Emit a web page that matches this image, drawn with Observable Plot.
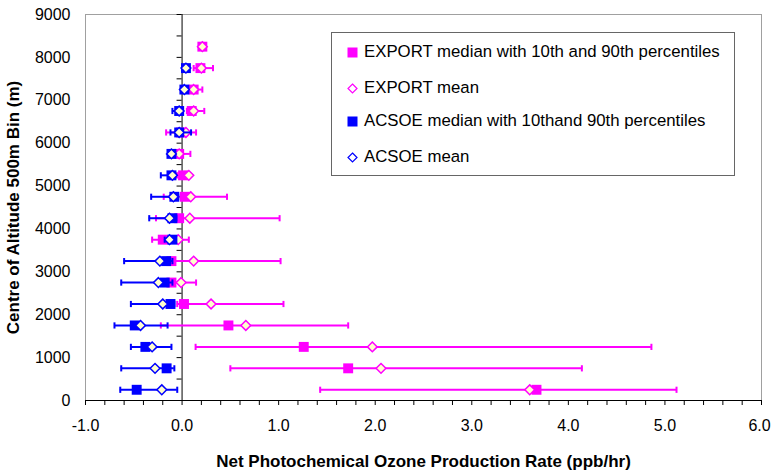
<!DOCTYPE html>
<html>
<head>
<meta charset="utf-8">
<script src="https://cdn.jsdelivr.net/npm/d3@7"></script>
<script src="https://cdn.jsdelivr.net/npm/@observablehq/plot@0.6"></script>
<style>
  body { margin: 0; background: #fff; font-family: "Liberation Sans", Arial, sans-serif; }
  #chart { position: relative; width: 771px; height: 470px; }
  .legend { position: absolute; left: 331px; top: 32px; width: 402px; height: 142px;
            border: 1px solid #666; background: #fff; font-size: 16.8px; color: #000; }
  .legend .item { position: absolute; left: 15px; height: 20px; display: flex; align-items: center; white-space: nowrap; }
  .legend svg { margin-right: 6px; }
</style>
</head>
<body>
<div id="chart"></div>
<script>
// Altitude bin centres (m)
const exportAltitude = [250, 750, 1250, 1750, 2250, 2750, 3250, 3750, 4250, 4750, 5250, 5750, 6250, 6750, 7250, 7750, 8250];
const acsoeAltitude  = [250, 750, 1250, 1750, 2250, 2750, 3250, 3750, 4250, 4750, 5250, 5750, 6250, 6750, 7250, 7750];

// EXPORT net ozone production (ppb/hr)
const exportMedian = [3.67, 1.72, 1.26, 0.48, 0.02, -0.11, -0.11, -0.20, -0.03, 0.03, 0.01, -0.03, -0.01, 0.10, 0.12, 0.19, 0.21];
const exportMean   = [3.60, 2.06, 1.97, 0.66, 0.30, -0.01, 0.12, -0.04, 0.08, 0.09, 0.07, -0.03, 0.04, 0.12, 0.12, 0.20, 0.21];
const exportP10    = [1.43, 0.50, 0.14, -0.22, -0.05, -0.14, -0.15, -0.31, -0.27, -0.19, -0.05, -0.08, -0.165, 0.05, 0.08, 0.12, 0.19];
const exportP90    = [5.12, 4.14, 4.86, 1.72, 1.05, 0.145, 1.02, 0.07, 1.01, 0.465, 0.08, 0.086, 0.145, 0.23, 0.21, 0.32, 0.23];

// ACSOE net ozone production (ppb/hr)
const acsoeMedian = [-0.47, -0.16, -0.38, -0.49, -0.12, -0.18, -0.165, -0.10, -0.10, -0.08, -0.11, -0.11, -0.03, -0.03, 0.024, 0.04];
const acsoeMean   = [-0.21, -0.28, -0.31, -0.43, -0.20, -0.245, -0.23, -0.13, -0.13, -0.09, -0.10, -0.11, -0.03, -0.03, 0.024, 0.04];
const acsoeP10    = [-0.64, -0.63, -0.53, -0.70, -0.53, -0.63, -0.60, -0.18, -0.34, -0.32, -0.22, -0.14, -0.12, -0.10, 0.0, 0.02];
const acsoeP90    = [-0.05, -0.08, -0.11, -0.15, -0.08, -0.10, -0.10, -0.07, -0.06, -0.04, -0.07, -0.08, 0.093, 0.0, 0.05, 0.06];

// Axis ticks
const xMinorTicks = d3.range(-10, 61, 2).map(d => d / 10);
const xMajorTicks = [-1, 0, 1, 2, 3, 4, 5];
const xLastTick = [6];
const yMinorTicks = d3.range(0, 9001, 500);
const yMajorTicks = d3.range(0, 9001, 1000);

const exportColor = "#ff00ff";
const acsoeColor = "#0000ff";
const meanFill = "#ffffcc";

// one decimal, plain hyphen for negatives
const fmtX = d => d.toFixed(1);

const exportRows = exportAltitude.map((alt, i) => ({alt, median: exportMedian[i], mean: exportMean[i], p10: exportP10[i], p90: exportP90[i]}));
const acsoeRows = acsoeAltitude.map((alt, i) => ({alt, median: acsoeMedian[i], mean: acsoeMean[i], p10: acsoeP10[i], p90: acsoeP90[i]}));

// vertical end cap for the percentile bars
const capSymbol = {
  draw(context, size) {
    const h = Math.sqrt(size);
    context.moveTo(0, -h);
    context.lineTo(0, h);
  }
};

function seriesMarks(rows, color) {
  return [
    Plot.ruleY(rows, {y: "alt", x1: "p10", x2: "p90", stroke: color, strokeWidth: 2}),
    Plot.dot(rows, {x: "p10", y: "alt", symbol: capSymbol, r: 1.75, fill: "none", stroke: color, strokeWidth: 2}),
    Plot.dot(rows, {x: "p90", y: "alt", symbol: capSymbol, r: 1.75, fill: "none", stroke: color, strokeWidth: 2}),
    Plot.dot(rows, {x: "median", y: "alt", symbol: "square", r: 5.6, fill: color, stroke: "none"})
  ];
}
function meanMarks(rows, color) {
  return Plot.dot(rows, {x: "mean", y: "alt", symbol: "diamond2", r: 4.4, fill: meanFill, stroke: color, strokeWidth: 1.5});
}

const chart = Plot.plot({
  width: 771,
  height: 470,
  marginLeft: 85,
  marginRight: 10,
  marginTop: 14,
  marginBottom: 70,
  style: {fontFamily: "'Liberation Sans', Arial, sans-serif", fontSize: "16px", color: "#000", background: "#fff"},
  x: {domain: [-1, 6]},
  y: {domain: [0, 9000]},
  marks: [
    Plot.frame({stroke: "#a0a0a0"}),
    // y axis drawn through x = 0 with ticks pointing left
    Plot.ruleX([0], {stroke: "#000"}),
    Plot.ruleY(yMinorTicks, {y: d => d, x1: () => 0, x2: () => 0, insetLeft: -5, stroke: "#000"}),
    Plot.axisY(yMajorTicks, {anchor: "left", tickSize: 0, tickPadding: 15, tickFormat: d3.format("d"), label: null, fontSize: 16}),
    Plot.axisY({anchor: "left", ticks: [], label: "Centre of Altitude 500m Bin (m)", labelAnchor: "center", labelArrow: "none", labelOffset: 79, fontWeight: "bold", fontSize: 17}),
    // x axis
    Plot.ruleY([0], {stroke: "#000"}),
    Plot.axisX(xMinorTicks, {anchor: "bottom", tickSize: 5, tickFormat: () => "", label: null}),
    Plot.axisX(xMajorTicks, {anchor: "bottom", tickSize: 0, tickPadding: 19, tickFormat: fmtX, label: null, fontSize: 16}),
    Plot.axisX(xLastTick, {anchor: "bottom", tickSize: 0, tickPadding: 19, tickFormat: fmtX, label: null, fontSize: 16, dx: -2}),
    Plot.axisX({anchor: "bottom", ticks: [], label: "Net Photochemical Ozone Production Rate (ppb/hr)", labelAnchor: "center", labelArrow: "none", labelOffset: 66, fontWeight: "bold", fontSize: 17}),
    // series
    ...seriesMarks(exportRows, exportColor),
    meanMarks(exportRows, exportColor),
    ...seriesMarks(acsoeRows, acsoeColor),
    meanMarks(acsoeRows, acsoeColor)
  ]
});

const container = document.getElementById("chart");
container.appendChild(chart);

// legend box inside the plot area
const legendItems = [
  {label: "EXPORT median with 10th and 90th percentiles", color: exportColor, shape: "square"},
  {label: "EXPORT mean", color: exportColor, shape: "diamond"},
  {label: "ACSOE median with 10thand 90th percentiles", color: acsoeColor, shape: "square"},
  {label: "ACSOE mean", color: acsoeColor, shape: "diamond"}
];
const legendRowTops = [9, 45, 78, 114];
const legend = document.createElement("div");
legend.className = "legend";
legendItems.forEach((item, i) => {
  const row = document.createElement("div");
  row.className = "item";
  row.style.top = legendRowTops[i] + "px";
  const swatch = item.shape === "square"
    ? `<svg width="11" height="11"><rect x="0.5" y="0.5" width="10" height="10" fill="${item.color}"/></svg>`
    : `<svg width="11" height="11"><path d="M5.5,1 L10,5.5 L5.5,10 L1,5.5 Z" fill="#fff" stroke="${item.color}" stroke-width="1.2"/></svg>`;
  row.innerHTML = swatch + `<span>${item.label}</span>`;
  legend.appendChild(row);
});
container.appendChild(legend);
</script>
</body>
</html>
